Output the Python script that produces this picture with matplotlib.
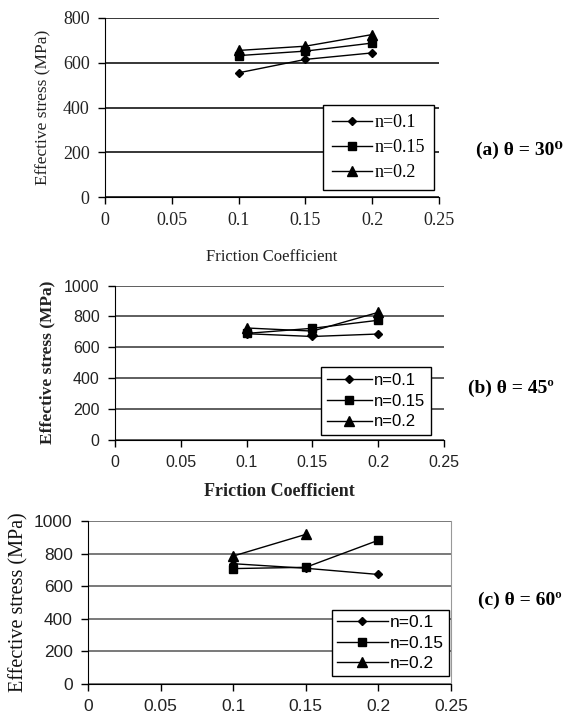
import matplotlib
matplotlib.use("Agg")
import matplotlib.pyplot as plt

W, H = 566, 717

fric = [0.1, 0.15, 0.2]
labels = ["n=0.1", "n=0.15", "n=0.2"]
markers = ["D", "s", "^"]
msizes = [4.5, 5.5, 6.5]

# (a) theta = 30
a_n01 = [555, 615, 644]
a_n015 = [632, 652, 688]
a_n02 = [655, 674, 726]

# (b) theta = 45
b_n01 = [688, 670, 686]
b_n015 = [690, 723, 775]
b_n02 = [725, 705, 826]

# (c) theta = 60
c_n01 = [738, 710, 672]
c_n015 = [708, 716, 882]
c_n02 = [785, 918]
c_x02 = [0.1, 0.15]

serif = ["Liberation Serif", "DejaVu Serif"]
sans = ["Liberation Sans", "DejaVu Sans"]


def box(x0, x1, ytop, ybot):
    # pixel box -> figure fraction
    return [x0 / W, 1 - ybot / H, (x1 - x0) / W, (ybot - ytop) / H]


def panel(ax, xs, series, ymax, tickfont, tsize, gridcol, right=False):
    for (x, y), lab, m, ms in zip(zip(xs, series), labels, markers, msizes):
        ax.plot(x, y, color="black", lw=1, marker=m, ms=ms, label=lab)
    ax.set_xlim(0, 0.25)
    ax.set_ylim(0, ymax)
    ax.set_xticks([0, 0.05, 0.1, 0.15, 0.2, 0.25])
    ax.set_xticklabels(["0", "0.05", "0.1", "0.15", "0.2", "0.25"])
    ax.set_yticks(range(0, ymax + 1, 200))
    ax.yaxis.grid(True, color=gridcol, lw=1.1)
    ax.set_axisbelow(True)
    for s in ["top", "right"]:
        ax.spines[s].set_visible(False)
    if right:
        ax.spines["right"].set_visible(True)
        ax.spines["right"].set_color("#999999")
    for s in ["left", "bottom"]:
        ax.spines[s].set_color("black")
    ax.tick_params(direction="out", length=5, width=1, colors="black",
                   labelcolor="#222222", labelsize=tsize, pad=6)
    for t in ax.get_xticklabels() + ax.get_yticklabels():
        t.set_family(tickfont)
    ax.set_facecolor("white")


def legend(ax, x, y, font, size, hl, ls, bp):
    leg = ax.legend(loc="upper left", bbox_to_anchor=(x / W, 1 - y / H),
                    bbox_transform=fig.transFigure, prop={"family": font, "size": size},
                    frameon=True, fancybox=False, edgecolor="black", framealpha=1,
                    handlelength=hl, labelspacing=ls, borderpad=bp, handletextpad=0.15,
                    borderaxespad=0)
    leg.get_frame().set_linewidth(1)


fig = plt.figure(figsize=(W / 100, H / 100), dpi=100)

# panel (a)
ax1 = fig.add_axes(box(105, 439, 18, 197))
panel(ax1, [fric, fric, fric], [a_n01, a_n015, a_n02], 800, serif, 13, "black")
ax1.set_ylabel("Effective stress (MPa)", family=serif, fontsize=12.5, color="#222222", labelpad=8)
ax1.set_xlabel("Friction Coefficient", family=serif, fontsize=12, color="#222222", labelpad=14)
legend(ax1, 323, 105, serif, 13, 2.2, 0.45, 0.5)
fig.text(476 / W, 1 - 150 / H, "(a) \u03b8 = 30\u2070", family=serif, fontsize=14,
         fontweight="bold", va="center", ha="left")

# panel (b)
ax2 = fig.add_axes(box(115, 444, 285.5, 440))
panel(ax2, [fric, fric, fric], [b_n01, b_n015, b_n02], 1000, sans, 11.5, "#333333")
ax2.set_ylabel("Effective stress (MPa)", family=serif, fontsize=12.5, fontweight="bold",
               color="#222222", labelpad=6)
legend(ax2, 321, 367, sans, 12, 2.7, 0.35, 0.35)
fig.text(468 / W, 1 - 388 / H, "(b) \u03b8 = 45\u00ba", family=serif, fontsize=14,
         fontweight="bold", va="center", ha="left")
fig.text(279 / W, 1 - 492 / H, "Friction Coefficient", family=serif, fontsize=13,
         fontweight="bold", color="#222222", va="center", ha="center")

# panel (c)
ax3 = fig.add_axes(box(88, 451, 521, 684))
panel(ax3, [fric, fric, c_x02], [c_n01, c_n015, c_n02], 1000, sans, 12.5, "#555555", right=True)
ax3.set_ylabel("Effective stress (MPa)", family=serif, fontsize=14.5, color="#111111", labelpad=4)
legend(ax3, 332, 610, sans, 12.5, 2.9, 0.3, 0.3)
fig.text(478 / W, 1 - 600 / H, "(c) \u03b8 = 60\u00ba", family=serif, fontsize=14,
         fontweight="bold", va="center", ha="left")

fig.savefig("out.png", dpi=100, facecolor="white")
